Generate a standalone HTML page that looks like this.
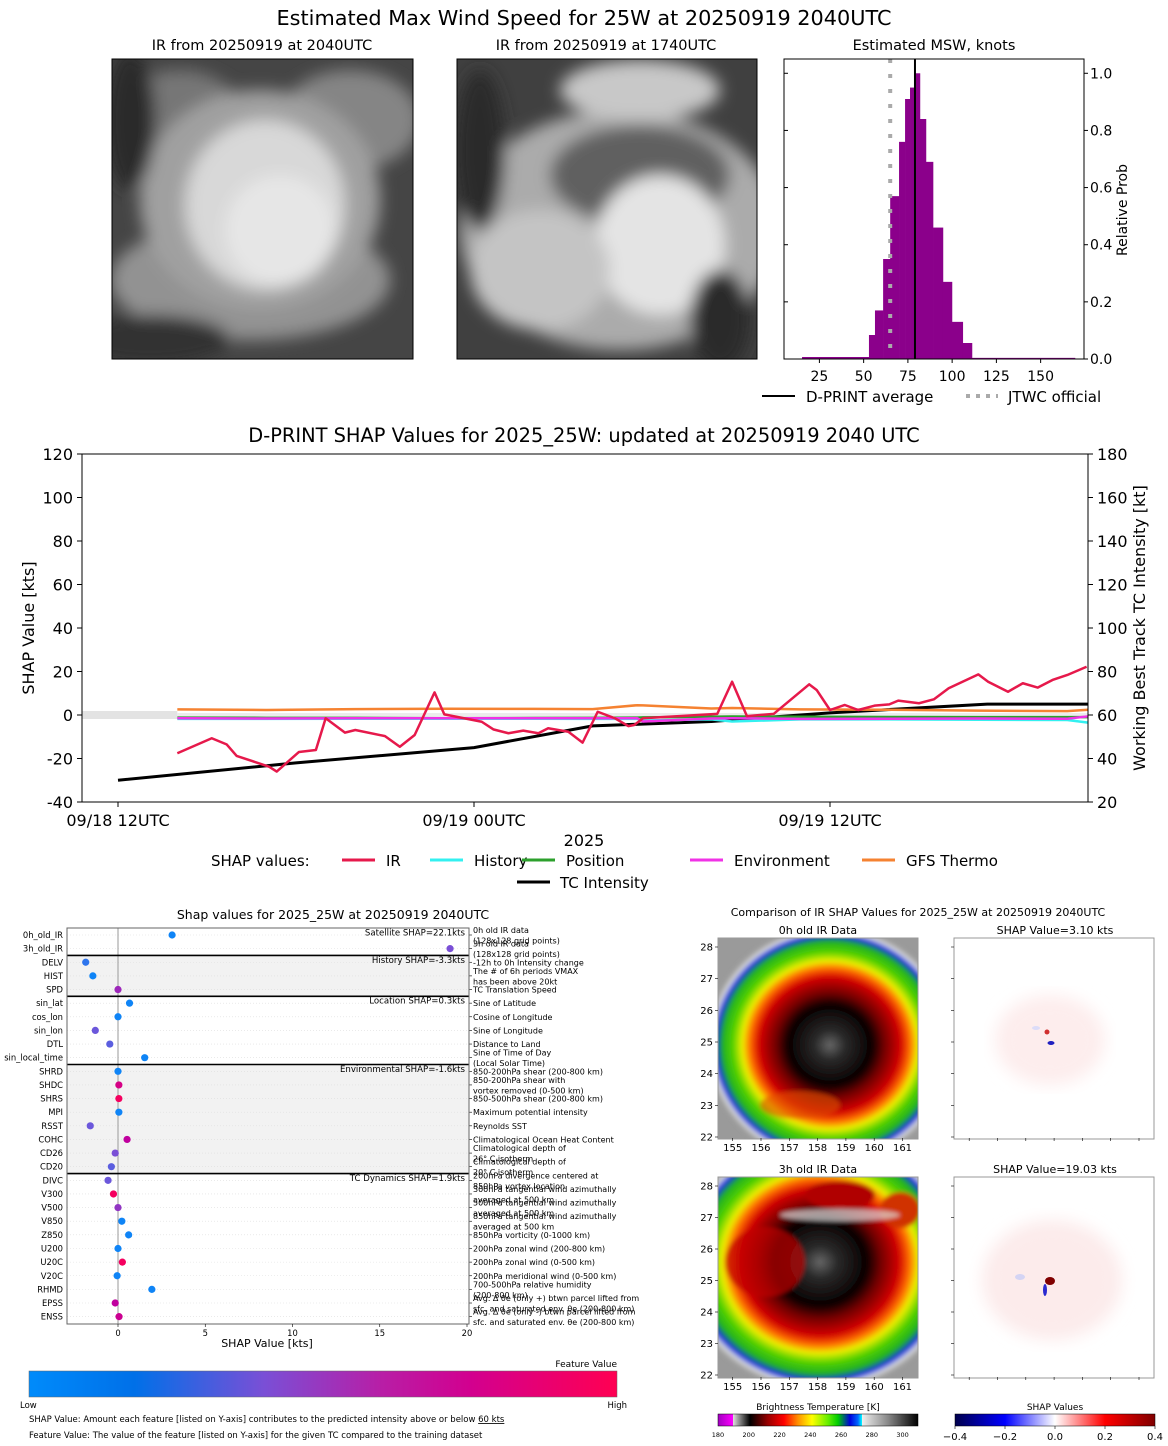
<!DOCTYPE html>
<html><head><meta charset="utf-8"><style>
html,body{margin:0;padding:0;background:#fff;}
svg{display:block;font-family:"DejaVu Sans","Liberation Sans",sans-serif;}
</style></head><body>
<svg id="root" width="1168" height="1446" viewBox="0 0 1168 1446" xmlns="http://www.w3.org/2000/svg">
<defs>
<filter id="blur4"><feGaussianBlur stdDeviation="4"/></filter>
<filter id="blur8"><feGaussianBlur stdDeviation="8"/></filter>
<filter id="blur2"><feGaussianBlur stdDeviation="2"/></filter>
<clipPath id="c1"><rect x="112" y="59" width="301" height="300"/></clipPath>
<clipPath id="c2"><rect x="457" y="59" width="300" height="300"/></clipPath>
<clipPath id="c3"><rect x="718" y="938" width="200" height="201"/></clipPath>
<clipPath id="c4"><rect x="718" y="1177" width="200" height="201"/></clipPath>
<radialGradient id="irc" cx="0.5" cy="0.5" r="0.5">
<stop offset="0" stop-color="#666"/><stop offset="0.12" stop-color="#2a2a2a"/><stop offset="0.33" stop-color="#080000"/>
<stop offset="0.43" stop-color="#700000"/><stop offset="0.56" stop-color="#d00000"/><stop offset="0.64" stop-color="#ff7000"/>
<stop offset="0.7" stop-color="#eeee00"/><stop offset="0.78" stop-color="#50d000"/><stop offset="0.86" stop-color="#20b020"/>
<stop offset="0.91" stop-color="#1030e0"/><stop offset="0.95" stop-color="#e0e0e0"/><stop offset="1" stop-color="#a0a0a0" stop-opacity="0"/>
</radialGradient>
<linearGradient id="shapcb" x1="0" x2="1"><stop offset="0" stop-color="#008bfb"/><stop offset="0.18" stop-color="#0070e8"/><stop offset="0.4" stop-color="#7a4fd6"/><stop offset="0.6" stop-color="#b81ea6"/><stop offset="0.75" stop-color="#d2008f"/><stop offset="1" stop-color="#ff0052"/></linearGradient>
<linearGradient id="ircb" x1="0" x2="1"><stop offset="0" stop-color="#a000c0"/><stop offset="0.075" stop-color="#ff00ff"/><stop offset="0.076" stop-color="#ddd"/><stop offset="0.16" stop-color="#000"/><stop offset="0.25" stop-color="#900"/><stop offset="0.33" stop-color="#f00"/><stop offset="0.4" stop-color="#ff9000"/><stop offset="0.47" stop-color="#ff0"/><stop offset="0.55" stop-color="#6e0"/><stop offset="0.6" stop-color="#0c0"/><stop offset="0.66" stop-color="#00d"/><stop offset="0.7" stop-color="#06f"/><stop offset="0.72" stop-color="#0ff"/><stop offset="0.721" stop-color="#eee"/><stop offset="0.85" stop-color="#888"/><stop offset="1" stop-color="#000"/></linearGradient>
<linearGradient id="bwrcb" x1="0" x2="1"><stop offset="0" stop-color="#00004c"/><stop offset="0.25" stop-color="#0000ff"/><stop offset="0.5" stop-color="#ffffff"/><stop offset="0.75" stop-color="#ff0000"/><stop offset="1" stop-color="#800000"/></linearGradient>
</defs>

<text x="584" y="25" font-size="20.8" text-anchor="middle">Estimated Max Wind Speed for 25W at 20250919 2040UTC</text>

<!-- IR images -->
<text x="262" y="50" font-size="14.5" text-anchor="middle">IR from 20250919 at 2040UTC</text>
<g clip-path="url(#c1)">
<rect x="112" y="59" width="301" height="300" fill="#454545"/>
<g filter="url(#blur8)">
<ellipse cx="180" cy="130" rx="70" ry="60" fill="#767676"/>
<ellipse cx="350" cy="120" rx="70" ry="50" fill="#858585"/>
<ellipse cx="250" cy="280" rx="140" ry="60" fill="#929292"/>
<ellipse cx="260" cy="200" rx="120" ry="110" fill="#a0a0a0"/>
<ellipse cx="265" cy="205" rx="80" ry="85" fill="#d8d8d8"/>
<ellipse cx="280" cy="230" rx="55" ry="55" fill="#e6e6e6"/>
<ellipse cx="150" cy="340" rx="80" ry="25" fill="#303030"/>
<ellipse cx="130" cy="120" rx="25" ry="70" fill="#2a2a2a"/>
</g>
</g>
<rect x="112" y="59" width="301" height="300" fill="none" stroke="#000" stroke-width="1"/>

<text x="606" y="50" font-size="14.5" text-anchor="middle">IR from 20250919 at 1740UTC</text>
<g clip-path="url(#c2)">
<rect x="457" y="59" width="300" height="300" fill="#404040"/>
<g filter="url(#blur8)">
<ellipse cx="620" cy="230" rx="160" ry="120" fill="#ababab"/>
<ellipse cx="640" cy="90" rx="80" ry="30" fill="#c8c8c8"/>
<ellipse cx="640" cy="175" rx="90" ry="50" fill="#606060"/>
<ellipse cx="660" cy="245" rx="65" ry="70" fill="#e4e4e4"/>
<ellipse cx="540" cy="270" rx="70" ry="60" fill="#c4c4c4"/>
<ellipse cx="720" cy="320" rx="30" ry="50" fill="#2a2a2a"/>
<ellipse cx="480" cy="150" rx="25" ry="80" fill="#2a2a2a"/>
</g>
</g>
<rect x="457" y="59" width="300" height="300" fill="none" stroke="#000" stroke-width="1"/>

<!-- histogram -->
<text x="934" y="50" font-size="14.5" text-anchor="middle">Estimated MSW, knots</text>
<g id="hist"></g>

<!-- main chart -->
<text x="584" y="442" font-size="19.4" text-anchor="middle">D-PRINT SHAP Values for 2025_25W: updated at 20250919 2040 UTC</text>
<g id="main"></g>

<!-- shap summary -->
<text x="333" y="919" font-size="12.5" text-anchor="middle">Shap values for 2025_25W at 20250919 2040UTC</text>
<g id="summ"></g>

<!-- IR comparison panels -->
<text x="918" y="916" font-size="11" text-anchor="middle">Comparison of IR SHAP Values for 2025_25W at 20250919 2040UTC</text>
<text x="818" y="934" font-size="11" text-anchor="middle">0h old IR Data</text>
<text x="1055" y="934" font-size="11" text-anchor="middle">SHAP Value=3.10 kts</text>
<text x="818" y="1173" font-size="11" text-anchor="middle">3h old IR Data</text>
<text x="1055" y="1173" font-size="11" text-anchor="middle">SHAP Value=19.03 kts</text>

<g clip-path="url(#c3)">
<rect x="718" y="938" width="200" height="201" fill="#9a9a9a"/>
<g filter="url(#blur2)">
<ellipse cx="830" cy="1045" rx="125" ry="120" fill="url(#irc)"/>
<ellipse cx="800" cy="1105" rx="40" ry="14" fill="#e05000" opacity="0.6"/>
</g>
</g>
<rect x="718" y="938" width="200" height="201" fill="none" stroke="#999"/>
<g clip-path="url(#c4)">
<rect x="718" y="1177" width="200" height="201" fill="#9a9a9a"/>
<g filter="url(#blur2)">
<ellipse cx="820" cy="1262" rx="140" ry="130" fill="url(#irc)"/>
<ellipse cx="765" cy="1262" rx="40" ry="35" fill="#c00000" opacity="0.7"/>
<ellipse cx="840" cy="1195" rx="35" ry="14" fill="#b00000"/>
<ellipse cx="900" cy="1210" rx="20" ry="18" fill="#d03000"/>
<ellipse cx="840" cy="1215" rx="60" ry="6" fill="#dddddd" opacity="0.7"/>
</g>
</g>
<rect x="718" y="1177" width="200" height="201" fill="none" stroke="#999"/>

<g>
<rect x="954" y="938" width="200" height="201" fill="#fff" stroke="#999"/>
<ellipse cx="1050" cy="1040" rx="55" ry="45" fill="#fdeded" filter="url(#blur8)"/>
<ellipse cx="1047" cy="1032" rx="2.5" ry="2.5" fill="#d03030"/>
<ellipse cx="1051" cy="1043" rx="3.5" ry="2" fill="#2020c0"/>
<ellipse cx="1036" cy="1028" rx="4" ry="2" fill="#dcdcf8"/>
</g>
<g>
<rect x="954" y="1177" width="200" height="201" fill="#fff" stroke="#999"/>
<ellipse cx="1052" cy="1280" rx="70" ry="60" fill="#fcebeb" filter="url(#blur8)"/>
<ellipse cx="1050" cy="1281" rx="5" ry="4" fill="#800000"/>
<ellipse cx="1045" cy="1290" rx="2" ry="6" fill="#2a2ad0"/>
<ellipse cx="1020" cy="1277" rx="5" ry="3" fill="#d4d4f4"/>
</g>
<g id="irax"></g>

<!-- colorbars -->
<text x="818" y="1410" font-size="9" text-anchor="middle">Brightness Temperature [K]</text>
<rect x="718" y="1414" width="200" height="12" fill="url(#ircb)" stroke="#000" stroke-width="0.5"/>
<text x="1055" y="1410" font-size="9" text-anchor="middle">SHAP Values</text>
<rect x="955" y="1414" width="200" height="12" fill="url(#bwrcb)" stroke="#000" stroke-width="0.5"/>
<g id="cbt"></g>

<text x="617" y="1367" font-size="9" text-anchor="end">Feature Value</text>
<rect x="29" y="1371" width="588" height="26" fill="url(#shapcb)" stroke="#666" stroke-width="0.5"/>
<text x="20" y="1408" font-size="8.5">Low</text>
<text x="627" y="1408" font-size="8.5" text-anchor="end">High</text>
<text x="29" y="1422" font-size="8.5">SHAP Value: Amount each feature [listed on Y-axis] contributes to the predicted intensity above or below <tspan text-decoration="underline">60 kts</tspan></text>
<text x="29" y="1438" font-size="8.5">Feature Value: The value of the feature [listed on Y-axis] for the given TC compared to the training dataset</text>
</svg>
<script>
// ---------- histogram data ----------
const histEdges = [15.2,53,56.4,61,65,70,73.4,76.2,79,81.8,85.2,89.2,94.8,99.9,106,111.2,169.4];
const histProbs = [0.007,0.084,0.17,0.35,0.57,0.76,0.91,0.95,1.0,0.84,0.69,0.46,0.27,0.13,0.056,0.004];
const histXTicks = [25,50,75,100,125,150];
const histYTicks = [0,0.2,0.4,0.6,0.8,1.0];
const dprintAvg = 79;
const jtwcOfficial = 65;

// ---------- main chart data ----------
const irHours = [2,3.16,3.66,4,5.1,5.35,6.1,6.67,7,7.65,8,9,9.5,10,10.67,11,12.26,12.65,13.16,13.66,14.17,14.5,15.18,15.66,16.17,16.75,17.2,17.4,17.7,20.2,20.7,21.2,22.1,23.3,23.55,24,24.5,24.95,25.5,26,26.3,27,27.5,28,29,29.33,30,30.5,31,31.5,32,32.65];
const irValues = [-17.6,-10.7,-13.5,-18.8,-23.8,-26,-17,-16.1,-1.5,-8.1,-6.9,-9.7,-14.6,-9.2,10.4,0.3,-3.1,-6.6,-8.4,-7.2,-8.4,-6.1,-7.7,-12.7,1.5,-1.5,-5.1,-4.6,-1.5,0.5,15.3,-0.5,0.5,14.1,11.5,2.3,4.6,2.3,4.3,4.9,6.6,5.4,7.2,12.3,18.7,15.3,10.7,14.6,12.6,16.1,18.4,22.2];
const auxHours = [2,5,8,11,14,16,17.5,17.7,20,20.7,23,26,29,32,32.7];
const gfsValues = [2.6,2.3,2.7,2.9,2.8,2.7,4.5,4.4,3.0,3.2,2.6,2.4,2.0,1.8,2.4];
const positionValues = [-1.2,-1.3,-1.3,-1.5,-1.4,-1.3,-1.2,-1.1,-0.8,-0.7,-0.8,-0.9,-1.0,-1.0,-1.0];
const historyValues = [-1.8,-1.8,-1.7,-1.7,-1.7,-1.8,-1.8,-2.5,-2.0,-3.0,-2.0,-2.0,-2.2,-2.3,-3.5];
const envValues = [-1.5,-1.6,-1.5,-1.5,-1.5,-1.5,-1.5,-3.0,-1.6,-1.5,-1.8,-1.7,-1.6,-1.7,-0.6];
const tcHours = [0,6,12,16,20,24,29.3,32.7];
const tcIntensity = [30,38,45,55,57,61,65,65];
const leftTicks = [-40,-20,0,20,40,60,80,100,120];
const rightTicks = [20,40,60,80,100,120,140,160,180];
const xTickHours = [0,12,24];
const xTickLabels = ["09/18 12UTC","09/19 00UTC","09/19 12UTC"];

// ---------- shap summary data ----------
const featNames = ["0h_old_IR","3h_old_IR","DELV","HIST","SPD","sin_lat","cos_lon","sin_lon","DTL","sin_local_time","SHRD","SHDC","SHRS","MPI","RSST","COHC","CD26","CD20","DIVC","V300","V500","V850","Z850","U200","U20C","V20C","RHMD","EPSS","ENSS"];
const featShap = [3.1,19.03,-1.85,-1.44,0,0.66,0,-1.3,-0.47,1.53,0,0.05,0.05,0.05,-1.59,0.52,-0.16,-0.38,-0.57,-0.26,0,0.22,0.61,0,0.25,-0.05,1.94,-0.16,0.06];
const featValue = [0.05,0.4,0.15,0.05,0.55,0.05,0.05,0.35,0.3,0.05,0.05,0.8,0.95,0.05,0.35,0.7,0.4,0.3,0.35,0.95,0.5,0.05,0.05,0.05,0.95,0.05,0.05,0.7,0.75];
const featDesc = [["0h old IR data","(128x128 grid points)"],["3h old IR data","(128x128 grid points)"],["-12h to 0h Intensity change"],["The # of 6h periods VMAX","has been above 20kt"],["TC Translation Speed"],["Sine of Latitude"],["Cosine of Longitude"],["Sine of Longitude"],["Distance to Land"],["Sine of Time of Day","(Local Solar Time)"],["850-200hPa shear (200-800 km)"],["850-200hPa shear with","vortex removed (0-500 km)"],["850-500hPa shear (200-800 km)"],["Maximum potential intensity"],["Reynolds SST"],["Climatological Ocean Heat Content"],["Climatological depth of","26° C isotherm"],["Climatological depth of","20° C isotherm"],["200hPa divergence centered at","850hPa vortex location"],["300hPa tangential wind azimuthally","averaged at 500 km"],["500hPa tangential wind azimuthally","averaged at 500 km"],["850hPa tangential wind azimuthally","averaged at 500 km"],["850hPa vorticity (0-1000 km)"],["200hPa zonal wind (200-800 km)"],["200hPa zonal wind (0-500 km)"],["200hPa meridional wind (0-500 km)"],["700-500hPa relative humidity","(200-800 km)"],["Avg. Δ θe (only +) btwn parcel lifted from","sfc. and saturated env. θe (200-800 km)"],["Avg. Δ θe (only -) btwn parcel lifted from","sfc. and saturated env. θe (200-800 km)"]];
const groupNames = ["Satellite SHAP=22.1kts","History SHAP=-3.3kts","Location SHAP=0.3kts","Environmental SHAP=-1.6kts","TC Dynamics SHAP=1.9kts"];
const groupStarts = [0,2,5,10,18];
const summXTicks = [0,5,10,15,20];

const NS="http://www.w3.org/2000/svg";
function mk(parent,tag,attrs,txt){const e=document.createElementNS(NS,tag);for(const k in attrs)e.setAttribute(k,attrs[k]);if(txt!==undefined)e.textContent=txt;parent.appendChild(e);return e;}

// ===== histogram =====
(function(){
const g=document.getElementById('hist');
const X0=784,X1=1084,Y0=59,Y1=359,xmin=5,xmax=174.5,ymax=1.05;
const sx=v=>X0+(v-xmin)/(xmax-xmin)*(X1-X0);
const sy=v=>Y1-v/ymax*(Y1-Y0);
for(let i=0;i<histProbs.length;i++){
 const r=mk(g,'rect',{x:sx(histEdges[i]),y:sy(histProbs[i]),width:sx(histEdges[i+1])-sx(histEdges[i])+0.3,height:Y1-sy(histProbs[i]),fill:'#8b008b'});
 
 
}
const jl=mk(g,'line',{x1:sx(jtwcOfficial),x2:sx(jtwcOfficial),y1:Y0,y2:Y1,stroke:'#aaa','stroke-width':4,'stroke-dasharray':'4 11'});


const dl=mk(g,'line',{x1:sx(dprintAvg),x2:sx(dprintAvg),y1:Y0,y2:Y1,stroke:'#000','stroke-width':2});


mk(g,'rect',{x:X0,y:Y0,width:X1-X0,height:Y1-Y0,fill:'none',stroke:'#000','stroke-width':1});
histXTicks.forEach(t=>{const x=sx(t);mk(g,'line',{x1:x,x2:x,y1:Y1,y2:Y1+4,stroke:'#000'});
 const tl=mk(g,'text',{x:x,y:Y1+22,'font-size':14,'text-anchor':'middle'},String(t));
 
 });
histYTicks.forEach(t=>{const y=sy(t);mk(g,'line',{x1:X1,x2:X1+4,y1:y,y2:y,stroke:'#000'});mk(g,'line',{x1:X0,x2:X0+4,y1:y,y2:y,stroke:'#000'});
 const tl=mk(g,'text',{x:X1+6,y:y+5,'font-size':14},t.toFixed(1));
 
 });
const yl=mk(g,'text',{x:0,y:0,'font-size':14,'text-anchor':'middle',transform:'translate(1127,210) rotate(-90)'},'Relative Prob');


mk(g,'line',{x1:762,x2:795,y1:396,y2:396,stroke:'#000','stroke-width':2});
const t1=mk(g,'text',{x:806,y:402,'font-size':15},'D-PRINT average');


mk(g,'line',{x1:966,x2:998,y1:396,y2:396,stroke:'#aaa','stroke-width':4,'stroke-dasharray':'4 6'});
const t2=mk(g,'text',{x:1008,y:402,'font-size':15},'JTWC official');


})();

// ===== main chart =====
(function(){
const g=document.getElementById('main');
const X0=82,X1=1088,Y0=454,Y1=802;
const sx=h=>118+h*(474-118)/12;
const sy=v=>715-v*(Y1-Y0)/160;
const syR=k=>sy(k-60);
mk(g,'rect',{x:X0,y:711,width:sx(2)-X0,height:8,fill:'#e3e3e3'});
mk(g,'rect',{x:sx(2),y:713,width:X1-sx(2),height:4,fill:'#ececec'});
function line(hs,vs,color,w,name,f){
 const p=mk(g,'polyline',{points:hs.map((h,i)=>sx(h)+','+(f?f(vs[i]):sy(vs[i]))).join(' '),fill:'none',stroke:color,'stroke-width':w,'stroke-linejoin':'round'});
 
 
}
line(tcHours,tcIntensity,'#000',3,'tc-intensity-line',syR);
line(auxHours,gfsValues,'#f58231',2.5,'gfs-thermo-line');
line(auxHours,positionValues,'#2ca02c',2.5,'position-line');
line(auxHours,historyValues,'#33f0f0',2.5,'history-line');
line(auxHours,envValues,'#f032e6',2.5,'environment-line');
line(irHours,irValues,'#e6194b',2.5,'ir-line');
mk(g,'rect',{x:X0,y:Y0,width:X1-X0,height:Y1-Y0,fill:'none',stroke:'#000','stroke-width':1});
leftTicks.forEach(t=>{const y=sy(t);mk(g,'line',{x1:X0-5,x2:X0,y1:y,y2:y,stroke:'#000'});
 const tl=mk(g,'text',{x:X0-9,y:y+6,'font-size':16,'text-anchor':'end'},String(t));
 
 });
rightTicks.forEach(t=>{const y=syR(t);mk(g,'line',{x1:X1,x2:X1+5,y1:y,y2:y,stroke:'#000'});
 const tl=mk(g,'text',{x:X1+9,y:y+6,'font-size':16},String(t));
 
 });
xTickHours.forEach((h,i)=>{const x=sx(h);mk(g,'line',{x1:x,x2:x,y1:Y1,y2:Y1+5,stroke:'#000'});
 const tl=mk(g,'text',{x:x,y:Y1+24,'font-size':16,'text-anchor':'middle'},xTickLabels[i]);
 
 });
const xl=mk(g,'text',{x:584,y:846,'font-size':16,'text-anchor':'middle'},'2025');


const yl=mk(g,'text',{x:0,y:0,'font-size':16,'text-anchor':'middle',transform:'translate(34,628) rotate(-90)'},'SHAP Value [kts]');


const yr=mk(g,'text',{x:0,y:0,'font-size':16,'text-anchor':'middle',transform:'translate(1145,628) rotate(-90)'},'Working Best Track TC Intensity [kt]');


const lh=mk(g,'text',{x:211,y:866,'font-size':15},'SHAP values:');


const leg=[[342,'#e6194b','IR'],[430,'#33f0f0','History'],[522,'#2ca02c','Position'],[690,'#f032e6','Environment'],[862,'#f58231','GFS Thermo']];
leg.forEach(l=>{mk(g,'line',{x1:l[0],x2:l[0]+33,y1:860,y2:860,stroke:l[1],'stroke-width':3});
 const t=mk(g,'text',{x:l[0]+44,y:866,'font-size':15},l[2]);
 
 });
mk(g,'line',{x1:517,x2:550,y1:882,y2:882,stroke:'#000','stroke-width':3});
const tt=mk(g,'text',{x:560,y:888,'font-size':15},'TC Intensity');


})();

// ===== shap summary =====
(function(){
const g=document.getElementById('summ');
const X0=67,X1=469,Y0=928,Y1=1324,zero=118,k=(467-118)/20;
const sx=v=>zero+v*k;
const rowY=i=>935+i*13.63;
const bgs=['#fff','#f2f2f2','#fff','#f2f2f2','#fff'];
groupStarts.forEach((s,gi)=>{const e=gi+1<groupStarts.length?groupStarts[gi+1]:featNames.length;
 const top=gi===0?Y0:rowY(s)-6.8, bot=gi===groupStarts.length-1?Y1:rowY(e)-6.8;
 mk(g,'rect',{x:X0,y:top,width:X1-X0,height:bot-top,fill:bgs[gi]});});
featNames.forEach((n,i)=>{mk(g,'line',{x1:X0,x2:X1,y1:rowY(i),y2:rowY(i),stroke:'#ddd','stroke-width':0.6,'stroke-dasharray':'1 2'});});
mk(g,'line',{x1:zero,x2:zero,y1:Y0,y2:Y1,stroke:'#999','stroke-width':1});
groupStarts.forEach((s,gi)=>{if(gi>0)mk(g,'line',{x1:X0,x2:X1,y1:rowY(s)-6.8,y2:rowY(s)-6.8,stroke:'#000','stroke-width':1.6});
 const t=mk(g,'text',{x:X1-4,y:rowY(s)+0.5,'font-size':8.6,'text-anchor':'end'},groupNames[gi]);
 
 });
function col(v){const st=[[0,[0,139,251]],[0.4,[122,79,214]],[0.7,[192,0,158]],[1,[255,0,82]]];
 for(let i=1;i<st.length;i++){if(v<=st[i][0]){const a=st[i-1],b=st[i],t=(v-a[0])/(b[0]-a[0]);return 'rgb('+a[1].map((c,j)=>Math.round(c+(b[1][j]-c)*t)).join(',')+')';}}return 'rgb(255,0,82)';}
featNames.forEach((n,i)=>{const y=rowY(i);
 const d=mk(g,'circle',{cx:sx(featShap[i]),cy:y,r:3.6,fill:col(featValue[i])});
 
 
 const t=mk(g,'text',{x:X0-4,y:y+3,'font-size':8.4,'text-anchor':'end'},n);
 
 
 mk(g,'line',{x1:X1,x2:X1+3,y1:y,y2:y,stroke:'#000','stroke-width':0.6});
 const ds=featDesc[i];
 ds.forEach((s,j)=>{const yy=ds.length===1?y+3:y-2+j*10.5;
  const tt=mk(g,'text',{x:X1+4,y:yy,'font-size':8},s);
  
  });
});
mk(g,'rect',{x:X0,y:Y0,width:X1-X0,height:Y1-Y0,fill:'none',stroke:'#666','stroke-width':1});
summXTicks.forEach(t=>{const x=sx(t);mk(g,'line',{x1:x,x2:x,y1:Y1,y2:Y1+3,stroke:'#000','stroke-width':0.6});
 const tl=mk(g,'text',{x:x,y:Y1+12,'font-size':8.4,'text-anchor':'middle'},String(t));
 
 });
const xl=mk(g,'text',{x:267,y:1347,'font-size':11,'text-anchor':'middle'},'SHAP Value [kts]');


})();

// ===== IR panel axes & colorbar ticks =====
(function(){
const g=document.getElementById('irax');
const lats=[22,23,24,25,26,27,28], lons=[155,156,157,158,159,160,161];
[[947,1137,1148,718],[1186,1375,1387,718]].forEach(p=>{
 lats.forEach(l=>{const y=p[1]+(l-22)*(p[0]-p[1])/6;
  mk(g,'line',{x1:p[3]-3,x2:p[3],y1:y,y2:y,stroke:'#000','stroke-width':0.6});
  mk(g,'line',{x1:951,x2:954,y1:y,y2:y,stroke:'#000','stroke-width':0.6});
  const t=mk(g,'text',{x:p[3]-5,y:y+3.5,'font-size':10,'text-anchor':'end'},String(l));
  
  });
 lons.forEach(l=>{const x=732.7+(l-155)*28.3;
  const yb=p[2]-10;
  mk(g,'line',{x1:x,x2:x,y1:yb,y2:yb+3,stroke:'#000','stroke-width':0.6});
  mk(g,'line',{x1:x+236.5,x2:x+236.5,y1:yb,y2:yb+3,stroke:'#000','stroke-width':0.6});
  const t=mk(g,'text',{x:x,y:p[2]+3,'font-size':10,'text-anchor':'middle'},String(l));
  
  });
});
const cg=document.getElementById('cbt');
[180,200,220,240,260,280,300].forEach(v=>{const x=718+(v-180)/130*200;
 const t=mk(cg,'text',{x:x,y:1437,'font-size':6.5,'text-anchor':'middle'},String(v));
 
 });
[-0.4,-0.2,0,0.2,0.4].forEach(v=>{const x=955+(v+0.4)/0.8*200;
 mk(cg,'line',{x1:x,x2:x,y1:1426,y2:1429,stroke:'#000','stroke-width':0.6});
 const t=mk(cg,'text',{x:x,y:1440,'font-size':10,'text-anchor':'middle'},v===0?'0.0':(v<0?'−':'')+Math.abs(v).toFixed(1));
 
 });
})();
</script>
</body></html>
